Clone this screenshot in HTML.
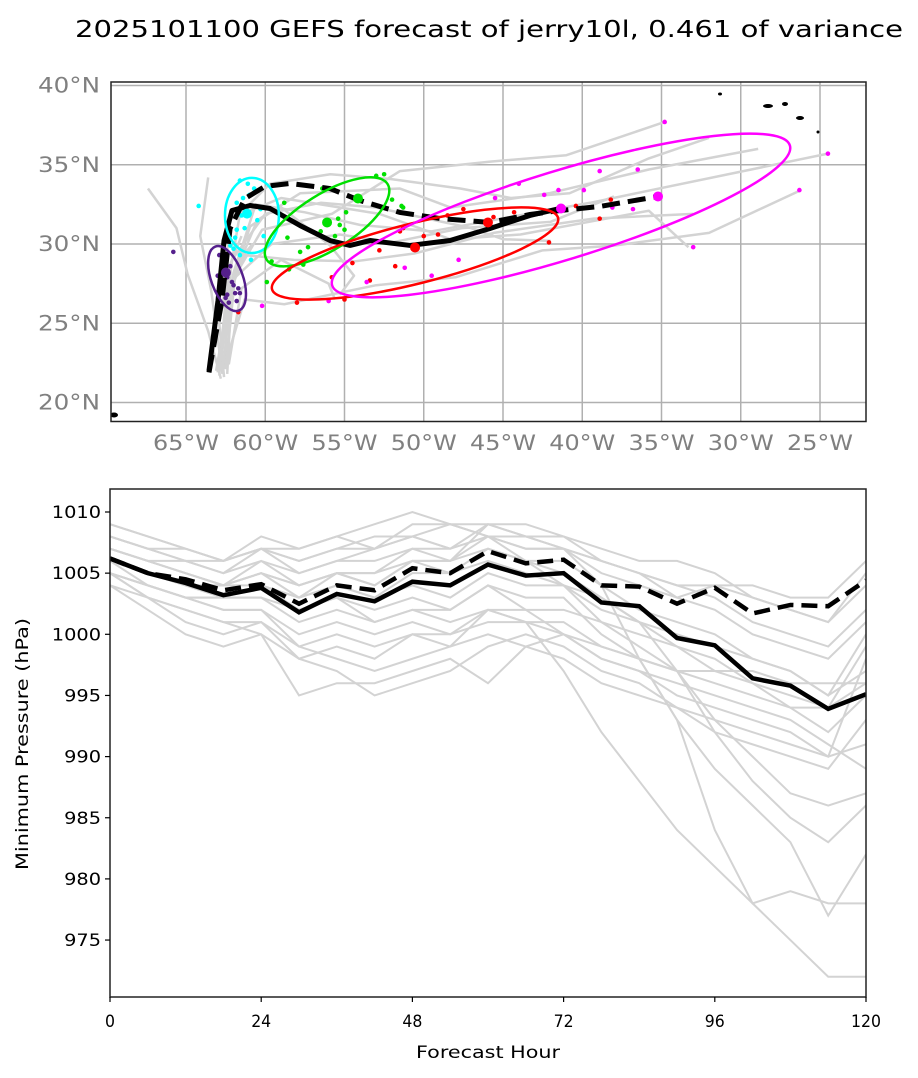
<!DOCTYPE html>
<html><head><meta charset="utf-8">
<style>
html,body{margin:0;padding:0;background:#fff;}
svg{display:block;font-family:"DejaVu Sans","Liberation Sans",sans-serif;}
</style></head>
<body>
<svg id="fig" width="918" height="1078" viewBox="0 0 918 1078" xmlns="http://www.w3.org/2000/svg">
<rect width="918" height="1078" fill="#fff"/>
<text x="489" y="37" text-anchor="middle" font-size="23" textLength="828" lengthAdjust="spacingAndGlyphs" fill="#000">2025101100 GEFS forecast of jerry10l, 0.461 of variance</text>
<g id="map"></g>
<g id="pres"></g>
</svg>
<script>
// ---------- MAP DATA ----------
const lonTicks = [-65,-60,-55,-50,-45,-40,-35,-30,-25];
const lonLabels = ["65°W","60°W","55°W","50°W","45°W","40°W","35°W","30°W","25°W"];
const latTicks = [20,25,30,35,40];
const latLabels = ["20°N","25°N","30°N","35°N","40°N"];
const meanLon = [-63.55,-62.98,-62.6,-62.1,-60.96,-59.7,-57.81,-55.91,-54.65,-53.39,-50.87,-48.34,-45.82,-43.3,-41.4];
const meanLat = [22.0,26.44,30.22,32.11,32.43,32.24,31.17,30.22,29.91,30.22,29.91,30.22,30.98,31.8,32.24];
const ctrlLon = [-63.55,-62.73,-62.22,-61.28,-60.02,-58.44,-55.91,-54.02,-51.5,-48.97,-45.82,-43.3,-41.4,-38.88,-35.22];
const ctrlLat = [21.9,26.44,30.98,32.87,33.63,33.82,33.5,32.74,31.99,31.61,31.36,31.86,32.11,32.37,33.0];
const memberTracks = [
 [[-62.8,21.5],[-63.6,24.5],[-64.9,28.1],[-65.6,31.0],[-67.4,33.5]],
 [[-62.7,21.8],[-63.4,27.0],[-64.1,30.5],[-63.6,34.2]],
 [[-62.9,21.7],[-62.5,26.5],[-61.6,31.9],[-59.7,33.8],[-55.9,34.4],[-52.1,34.1],[-47.7,33.5],[-44.5,32.9],[-40.8,33.2],[-35.8,35.4],[-32.0,36.7]],
 [[-63.1,22.0],[-62.2,27.3],[-60.96,31.1],[-59.1,32.4],[-55.9,29.9],[-54.4,28.0],[-55.3,26.8]],
 [[-63.0,21.9],[-62.4,27.0],[-60.5,31.5],[-57.8,33.2],[-51.5,33.5],[-48.3,32.3],[-42.1,33.2],[-35.8,34.7],[-28.9,36.0]],
 [[-62.6,22.2],[-62.3,26.8],[-61.3,29.3],[-58.2,29.0],[-54.4,28.9],[-50.6,29.4],[-45.6,30.7],[-39.3,31.6],[-33.0,31.9]],
 [[-62.4,22.3],[-62.6,27.5],[-62.2,31.6],[-59.0,32.9],[-52.8,31.9],[-48.3,30.3],[-43.9,30.6],[-35.8,32.1],[-33.3,29.8]],
 [[-62.5,22.1],[-61.9,28.0],[-60.2,30.9],[-55.8,31.9],[-51.5,34.6],[-45.8,35.2],[-41.0,35.6],[-34.8,37.7]],
 [[-62.7,22.0],[-62.0,27.8],[-59.6,30.0],[-55.3,30.6],[-52.0,30.1],[-47.6,31.0],[-42.0,31.4],[-38.0,33.0]],
 [[-62.3,22.4],[-61.5,27.2],[-59.0,29.0],[-56.0,27.5],[-55.6,26.5]],
 [[-62.9,22.6],[-62.0,28.2],[-60.6,32.5],[-57.5,32.0],[-54.0,31.2],[-49.5,30.8],[-44.0,31.8],[-39.5,32.6],[-24.5,35.7]],
 [[-62.5,22.5],[-61.3,26.5],[-58.8,26.2],[-53.0,27.4],[-48.0,27.9],[-42.5,29.6],[-38.0,29.9],[-32.0,30.7],[-26.2,33.4]],
 [[-62.8,22.3],[-62.1,29.0],[-60.0,31.9],[-56.5,32.6],[-53.0,32.3],[-47.0,31.0],[-45.0,30.3],[-42.0,30.2]],
 [[-62.6,21.6],[-62.9,25.0],[-62.3,28.5],[-61.5,30.5]],
 [[-62.4,21.8],[-62.2,25.5],[-61.8,28.8],[-60.8,30.0]]
];
const purpleLon=[-65.8,-62.9,-62.7,-62.4,-62.2,-62.0,-61.9,-62.8,-62.5,-61.7,-62.3,-62.9,-61.8,-62.6,-63.0,-62.1,-62.4,-61.6,-62.7];
const purpleLat=[29.5,29.3,28.5,27.9,28.6,27.4,26.9,27.6,26.6,27.2,26.3,26.1,26.4,29.1,28.0,27.6,26.8,26.9,28.8];
const cyanLon=[-64.2,-61.6,-61.4,-61.0,-60.7,-61.8,-60.5,-61.3,-61.9,-62.2,-60.1,-61.6,-60.9,-62.0,-61.1,-60.3,-61.5,-61.8];
const cyanLat=[32.4,34.0,32.9,33.1,33.5,32.6,31.5,31.0,30.4,29.9,30.5,29.3,29.0,29.7,33.8,32.2,31.8,30.9];
const greenLon=[-59.9,-58.6,-57.8,-57.6,-57.3,-56.5,-55.6,-55.3,-55.0,-54.9,-53.0,-52.5,-52.0,-51.3,-51.4,-56.4,-55.4,-59.6,-58.8,-58.5];
const greenLat=[27.6,30.4,29.5,28.7,29.8,30.8,30.5,31.2,30.9,32.0,34.3,34.4,32.8,32.3,32.4,33.5,31.6,28.9,32.6,28.4];
const redLon=[-61.7,-55.8,-54.5,-53.4,-52.8,-51.5,-51.3,-51.8,-50.0,-49.1,-48.5,-47.5,-45.6,-44.3,-42.1,-40.4,-38.9,-38.2,-55.0,-58.0];
const redLat=[25.7,27.9,28.8,27.7,29.6,30.8,31.0,28.6,30.5,30.6,31.8,32.2,31.7,32.0,30.1,32.4,31.6,32.8,26.5,26.3];
const magLon=[-60.2,-56.0,-51.2,-49.5,-47.8,-45.5,-44.0,-42.4,-41.5,-39.9,-38.9,-38.1,-36.5,-34.8,-33.0,-26.3,-24.5,-36.8,-53.6];
const magLat=[26.1,26.4,28.5,28.0,29.0,32.9,33.8,33.1,33.4,33.4,34.6,32.3,34.7,37.7,29.8,33.4,35.7,32.2,27.6];
const bigLon=[-62.48,-61.15,-56.1,-54.15,-50.55,-45.95,-41.34,-35.22];
const bigLat=[28.2,31.92,31.36,32.87,29.78,31.36,32.24,33.0];
const bigColor=["#55208c","#00ffff","#00e000","#00e000","#ff0000","#ff0000","#ff00ff","#ff00ff"];
const ellLon=[-62.41,-60.84,-56.1,-50.55,-41.34];
const ellLat=[27.82,31.8,31.4,29.4,31.8];
const ellA=[1.0,1.7,4.5,9.3,15.1];
const ellB=[2.15,2.37,1.75,1.9,2.8];
const ellAng=[-20,0,-32,-14,-17];
const ellColor=["#55208c","#00ffff","#00e000","#ff0000","#ff00ff"];

// ---------- PRESSURE DATA ----------
const hours=[0,6,12,18,24,30,36,42,48,54,60,66,72,78,84,90,96,102,108,114,120];
const presMean=[1006.2,1005,1004.2,1003.2,1003.8,1001.8,1003.3,1002.7,1004.3,1004,1005.7,1004.8,1005,1002.6,1002.3,999.7,999.1,996.4,995.8,993.9,995.1];
const presCtrl=[1006.2,1005,1004.5,1003.6,1004.1,1002.5,1004,1003.6,1005.4,1005,1006.8,1005.8,1006.1,1004,1003.9,1002.5,1003.8,1001.7,1002.4,1002.3,1004.4];
const presTicks=[975,980,985,990,995,1000,1005,1010];
const hourTicks=[0,24,48,72,96,120];
const members=[
 [1009,1008,1007,1006,1008,1007,1008,1009,1010,1009,1008,1006,1004,1001,999,997,992,988,985,983,986],
 [1008,1007,1006,1005,1007,1005,1006,1007,1008,1009,1008,1007,1007,1005,1004,1003,1004,1003,1002,1001,1004],
 [1007,1006,1005,1004,1005,1004,1005,1004,1006,1005,1007,1006,1006,1004,1002,1001,1000,998,997,995,997],
 [1006,1005,1004,1003,1003,1002,1003,1002,1003,1002,1004,1003,1003,1000,998,993,984,978,979,978,978],
 [1005,1004,1003,1002,1002,1000,1001,1000,1001,1000,1001,1001,997,992,988,984,981,978,975,972,972],
 [1005,1004,1003,1003,1004,1003,1005,1004,1006,1006,1007,1006,1005,1003,1001,997,993,990,987,986,987],
 [1006,1005,1004,1004,1005,1004,1005,1005,1007,1007,1008,1007,1007,1004,998,993,989,986,983,977,982],
 [1007,1006,1006,1005,1006,1004,1005,1005,1006,1006,1008,1008,1008,1006,1005,1004,1003,1001,1000,999,1002],
 [1008,1007,1006,1006,1007,1006,1007,1007,1009,1009,1009,1008,1007,1006,1005,1003,1002,1000,999,998,1001],
 [1004,1002,1000,999,1000,998,999,998,1000,1000,1002,1001,1000,998,997,995,994,993,992,990,991],
 [1005,1003,1001,1000,1001,999,1000,999,1000,999,1000,999,998,996,995,994,992,991,990,989,993],
 [1006,1004,1003,1002,1002,999,998,997,998,999,1002,1002,1000,998,997,996,995,994,993,991,989],
 [1005,1003,1002,1001,1001,998,997,995,996,997,999,1000,999,997,996,994,993,992,991,990,998],
 [1004,1003,1002,1001,1000,995,996,996,997,998,996,999,1000,999,998,997,996,995,994,994,996],
 [1007,1006,1005,1004,1005,1003,1004,1003,1004,1003,1005,1004,1004,1002,1001,1000,999,998,997,995,1000],
 [1006,1005,1004,1003,1004,1002,1003,1001,1002,1001,1002,1001,1001,999,998,997,997,996,995,994,999],
 [1008,1007,1007,1006,1007,1006,1007,1008,1008,1007,1009,1009,1008,1007,1006,1006,1005,1003,1002,1001,1005],
 [1009,1008,1007,1006,1007,1007,1008,1007,1008,1007],
 [1007,1006,1005,1004,1006,1005,1006,1006,1007,1006,1009,1008,1007,1006,1005,1004,1004,1004,1003,1003,1006],
 [1005,1004,1003,1003,1003,1001,1002,1001,1002,1002,1004,1002,1002,1001,1000,999,998,996,994,992,995],
 [1006,1005,1004,1004,1004,1003,1004,1003,1005,1005,1006,1005,1004,1003,1001,999,997,997,996,996,996]
];

const NS="http://www.w3.org/2000/svg";
function mk(tag,attrs,parent){const e=document.createElementNS(NS,tag);for(const k in attrs)e.setAttribute(k,attrs[k]);parent.appendChild(e);return e;}

// ---------- MAP ----------
const map=document.getElementById('map');
const MX0=111,MX1=866,MY0=82,MY1=421.5;
const PPD=15.85;
function mx(lon){return 186+(lon+65)*PPD;}
function my(lat){return 244-(lat-30)*PPD;}
const clip=mk('clipPath',{id:'mclip'},map);
mk('rect',{x:MX0,y:MY0,width:MX1-MX0,height:MY1-MY0},clip);
const mg=mk('g',{'clip-path':'url(#mclip)'},map);


lonTicks.forEach((lo,i)=>{
  const l=mk('line',{x1:mx(lo),x2:mx(lo),y1:MY0,y2:MY1,stroke:'#b0b0b0','stroke-width':1.5},mg);
  
  
  const t=mk('text',{x:mx(lo),y:450,'text-anchor':'middle','font-size':21,fill:'#808080',textLength:66,lengthAdjust:'spacingAndGlyphs'},map);
  t.textContent=lonLabels[i];
  
  
});
latTicks.forEach((la,i)=>{
  const l=mk('line',{x1:MX0,x2:MX1,y1:my(la),y2:my(la),stroke:'#b0b0b0','stroke-width':1.5},mg);
  
  
  const t=mk('text',{x:100,y:my(la)+7,'text-anchor':'end','font-size':21,fill:'#808080',textLength:62,lengthAdjust:'spacingAndGlyphs'},map);
  t.textContent=latLabels[i];
  
  
});
[[720,94,2,1.5],[768,106,5,2],[785,104,3,2],[800,118,4,2],[818,132,1.5,1.5],[114,415,4,2.5]].forEach(b=>{
  const e=mk('ellipse',{cx:b[0],cy:b[1],rx:b[2],ry:b[3],fill:'#000'},mg);
  
  
});
memberTracks.forEach(tr=>{
  const p=mk('polyline',{points:tr.map(q=>mx(q[0])+','+my(q[1])).join(' '),fill:'none',stroke:'#d3d3d3','stroke-width':2.5,'stroke-linejoin':'round'},mg);
  
  
});
function dots(lons,lats,col,name){
  lons.forEach((lo,i)=>{
    const c=mk('circle',{cx:mx(lo),cy:my(lats[i]),r:2.3,fill:col},mg);
    
    
  });
}
dots(purpleLon,purpleLat,'#55208c','member-position-24h');
dots(cyanLon,cyanLat,'#00ffff','member-position-48h');
dots(greenLon,greenLat,'#00e000','member-position-72h');
dots(redLon,redLat,'#ff0000','member-position-96h');
dots(magLon,magLat,'#ff00ff','member-position-120h');
const meanP=mk('polyline',{points:meanLon.map((lo,i)=>mx(lo)+','+my(meanLat[i])).join(' '),fill:'none',stroke:'#000','stroke-width':5,'stroke-linejoin':'round'},mg);


const ctrlP=mk('polyline',{points:ctrlLon.map((lo,i)=>mx(lo)+','+my(ctrlLat[i])).join(' '),fill:'none',stroke:'#000','stroke-width':5,'stroke-dasharray':'18,8'},mg);


ellLon.forEach((lo,i)=>{
  const cx=mx(lo),cy=my(ellLat[i]);
  const e=mk('ellipse',{cx:cx,cy:cy,rx:ellA[i]*PPD,ry:ellB[i]*PPD,fill:'none',stroke:ellColor[i],'stroke-width':2.5,transform:`rotate(${ellAng[i]} ${cx} ${cy})`},mg);
  
  
});
bigLon.forEach((lo,i)=>{
  const c=mk('circle',{cx:mx(lo),cy:my(bigLat[i]),r:5,fill:bigColor[i]},mg);
  
  
});
const mf=mk('rect',{x:MX0,y:MY0,width:MX1-MX0,height:MY1-MY0,fill:'none',stroke:'#222','stroke-width':1.5},map);



// ---------- PRESSURE ----------
const pr=document.getElementById('pres');
const PX0=110,PX1=866,PY0=489,PY1=997;
function px(h){return PX0+h*(PX1-PX0)/120;}
function py(p){return 512+(1010-p)*12.23;}
const pclip=mk('clipPath',{id:'pclip'},pr);
mk('rect',{x:PX0,y:PY0,width:PX1-PX0,height:PY1-PY0},pclip);
const pg=mk('g',{'clip-path':'url(#pclip)'},pr);
members.forEach(m=>{
  const p=mk('polyline',{points:m.map((v,i)=>px(hours[i])+','+py(v)).join(' '),fill:'none',stroke:'#d3d3d3','stroke-width':2},pg);
  
  
});
const pm=mk('polyline',{points:presMean.map((v,i)=>px(hours[i])+','+py(v)).join(' '),fill:'none',stroke:'#000','stroke-width':4.5},pg);


const pc=mk('polyline',{points:presCtrl.map((v,i)=>px(hours[i])+','+py(v)).join(' '),fill:'none',stroke:'#000','stroke-width':4.5,'stroke-dasharray':'16,8'},pg);


const pf=mk('rect',{x:PX0,y:PY0,width:PX1-PX0,height:PY1-PY0,fill:'none',stroke:'#222','stroke-width':1.5},pr);


presTicks.forEach(v=>{
  const y=py(v);
  const tk=mk('line',{x1:PX0-5,x2:PX0,y1:y,y2:y,stroke:'#000','stroke-width':1.2},pr);
  
  
  const s=String(v);
  const t=mk('text',{x:PX0-9,y:y+6,'text-anchor':'end','font-size':17,fill:'#000',textLength:s.length*12.3,lengthAdjust:'spacingAndGlyphs'},pr);
  t.textContent=s;
  
  
});
hourTicks.forEach(h=>{
  const x=px(h);
  const tk=mk('line',{x1:x,x2:x,y1:PY1,y2:PY1+5,stroke:'#000','stroke-width':1.2},pr);
  
  
  const s=String(h);
  const t=mk('text',{x:x,y:PY1+30,'text-anchor':'middle','font-size':17,fill:'#000',textLength:s.length*10,lengthAdjust:'spacingAndGlyphs'},pr);
  t.textContent=s;
  
  
});
const xl=mk('text',{x:488,y:1058,'text-anchor':'middle','font-size':17,fill:'#000',textLength:144,lengthAdjust:'spacingAndGlyphs'},pr);
xl.textContent='Forecast Hour';


const yl=mk('text',{x:0,y:0,'text-anchor':'middle','font-size':17,fill:'#000',textLength:252,lengthAdjust:'spacingAndGlyphs',transform:'translate(28,744) rotate(-90)'},pr);
yl.textContent='Minimum Pressure (hPa)';


</script>
</body></html>
